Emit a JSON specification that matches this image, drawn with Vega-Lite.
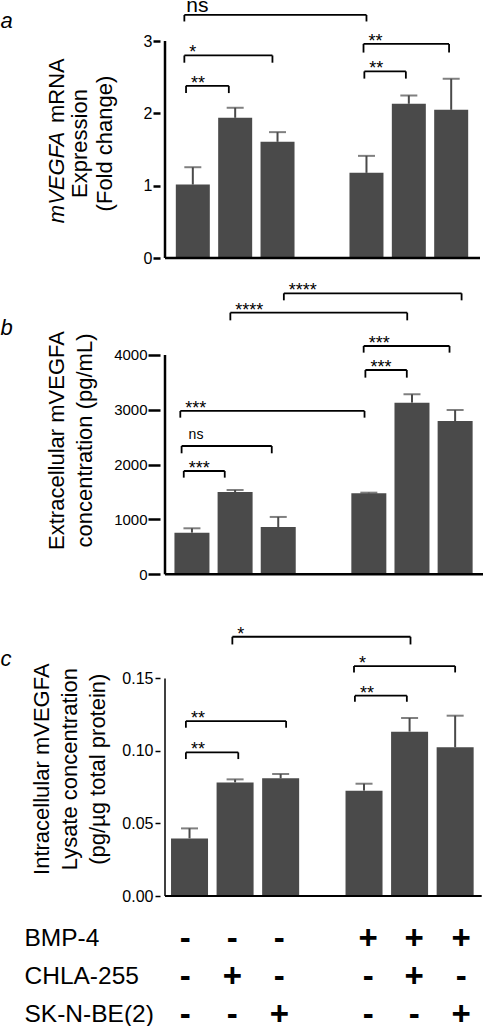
{
  "$schema": "https://vega.github.io/schema/vega-lite/v6.json",
  "background": "white",
  "padding": {"top": -6, "left": 0, "right": 0, "bottom": 0},
  "bounds": "flush",
  "spacing": 30,
  "config": {"view": {"stroke": null}, "font": "Liberation Sans", "axis": {"grid": false}},
  "datasets": {
    "a_bars": [
      {"condition": "Control", "pos": 1, "mean": 1.015, "upper": 1.255},
      {"condition": "CHLA-255", "pos": 2, "mean": 1.938, "upper": 2.077},
      {"condition": "SK-N-BE(2)", "pos": 3, "mean": 1.606, "upper": 1.74},
      {"condition": "BMP-4", "pos": 5.1, "mean": 1.177, "upper": 1.412},
      {"condition": "BMP-4 + CHLA-255", "pos": 6.1, "mean": 2.132, "upper": 2.247},
      {"condition": "BMP-4 + SK-N-BE(2)", "pos": 7.1, "mean": 2.049, "upper": 2.478}
    ],
    "a_br": [
      {"x1": 0.8, "x2": 5.1, "y": 3.36, "yb": 3.27, "label": "ns"},
      {"x1": 0.8, "x2": 2.88, "y": 2.8, "yb": 2.7, "label": "*"},
      {"x1": 0.84, "x2": 1.85, "y": 2.38, "yb": 2.28, "label": "**"},
      {"x1": 5.03, "x2": 7.05, "y": 2.96, "yb": 2.84, "label": "**"},
      {"x1": 5.05, "x2": 6.03, "y": 2.58, "yb": 2.48, "label": "**"}
    ],
    "b_bars": [
      {"condition": "Control", "pos": 1, "mean": 760, "upper": 839},
      {"condition": "CHLA-255", "pos": 2, "mean": 1501, "upper": 1538},
      {"condition": "SK-N-BE(2)", "pos": 3, "mean": 863, "upper": 1046},
      {"condition": "BMP-4", "pos": 5.1, "mean": 1477, "upper": 1489},
      {"condition": "BMP-4 + CHLA-255", "pos": 6.1, "mean": 3131, "upper": 3283},
      {"condition": "BMP-4 + SK-N-BE(2)", "pos": 7.1, "mean": 2796, "upper": 2997}
    ],
    "b_br": [
      {"x1": 3.13, "x2": 7.25, "y": 5125, "yb": 4997, "label": "****"},
      {"x1": 1.89, "x2": 5.99, "y": 4772, "yb": 4632, "label": "****"},
      {"x1": 4.98, "x2": 6.97, "y": 4164, "yb": 4043, "label": "***"},
      {"x1": 5.02, "x2": 5.98, "y": 3726, "yb": 3587, "label": "***"},
      {"x1": 0.73, "x2": 5.0, "y": 2979, "yb": 2857, "label": "***"},
      {"x1": 0.76, "x2": 2.85, "y": 2340, "yb": 2207, "label": "ns"},
      {"x1": 0.81, "x2": 1.76, "y": 1884, "yb": 1763, "label": "***"}
    ],
    "c_bars": [
      {"condition": "Control", "pos": 1, "mean": 0.0397, "upper": 0.0466},
      {"condition": "CHLA-255", "pos": 2, "mean": 0.0783, "upper": 0.0804},
      {"condition": "SK-N-BE(2)", "pos": 3, "mean": 0.0811, "upper": 0.0841},
      {"condition": "BMP-4", "pos": 4.83, "mean": 0.0726, "upper": 0.0774},
      {"condition": "BMP-4 + CHLA-255", "pos": 5.83, "mean": 0.1133, "upper": 0.1227},
      {"condition": "BMP-4 + SK-N-BE(2)", "pos": 6.83, "mean": 0.1025, "upper": 0.1243}
    ],
    "c_br": [
      {"x1": 1.94, "x2": 5.85, "y": 0.1787, "yb": 0.1734, "label": "*"},
      {"x1": 4.61, "x2": 6.83, "y": 0.1585, "yb": 0.1541, "label": "*"},
      {"x1": 4.63, "x2": 5.77, "y": 0.1381, "yb": 0.1339, "label": "**"},
      {"x1": 0.92, "x2": 3.12, "y": 0.1206, "yb": 0.116, "label": "**"},
      {"x1": 0.92, "x2": 2.07, "y": 0.099, "yb": 0.0944, "label": "**"}
    ],
    "table": [
      {"factor": "BMP-4", "pos": 1, "sign": "-"},
      {"factor": "BMP-4", "pos": 2, "sign": "-"},
      {"factor": "BMP-4", "pos": 3, "sign": "-"},
      {"factor": "BMP-4", "pos": 4.89, "sign": "+"},
      {"factor": "BMP-4", "pos": 5.87, "sign": "+"},
      {"factor": "BMP-4", "pos": 6.87, "sign": "+"},
      {"factor": "CHLA-255", "pos": 1, "sign": "-"},
      {"factor": "CHLA-255", "pos": 2, "sign": "+"},
      {"factor": "CHLA-255", "pos": 3, "sign": "-"},
      {"factor": "CHLA-255", "pos": 4.89, "sign": "-"},
      {"factor": "CHLA-255", "pos": 5.87, "sign": "+"},
      {"factor": "CHLA-255", "pos": 6.87, "sign": "-"},
      {"factor": "SK-N-BE(2)", "pos": 1, "sign": "-"},
      {"factor": "SK-N-BE(2)", "pos": 2, "sign": "-"},
      {"factor": "SK-N-BE(2)", "pos": 3, "sign": "+"},
      {"factor": "SK-N-BE(2)", "pos": 4.89, "sign": "-"},
      {"factor": "SK-N-BE(2)", "pos": 5.87, "sign": "-"},
      {"factor": "SK-N-BE(2)", "pos": 6.87, "sign": "+"}
    ]
  },
  "vconcat": [
    {
      "width": 325,
      "height": 257,
      "resolve": {"axis": {"y": "independent"}},
      "layer": [
        {
          "data": {"name": "a_bars"},
          "mark": {"type": "bar", "width": 34, "color": "#4a4a4a"},
          "encoding": {
            "x": {"field": "pos", "type": "quantitative", "scale": {"domain": [0.3432, 7.7803], "nice": false, "zero": false}, "axis": null},
            "y": {"field": "mean", "type": "quantitative", "scale": {"domain": [0, 3.553], "nice": false},
              "axis": {"orient": "left", "values": [0, 1, 2, 3], "domain": false, "ticks": true, "tickSize": 7, "tickWidth": 2.5, "tickColor": "black", "labelFontSize": 16, "labelColor": "black", "labelPadding": 1, "grid": false,
                "title": ["Expression", "(Fold change)"], "titleFontSize": 22, "titleFontWeight": "normal", "titleColor": "black", "titleLineHeight": 25, "titleAngle": -90, "titleAlign": "center", "titleBaseline": "alphabetic", "titleX": -73.3, "titleY": 142}}
          }
        },
        {
          "data": {"name": "a_bars"},
          "mark": {"type": "rule", "color": "#4a4a4a", "strokeWidth": 2},
          "encoding": {
            "x": {"field": "pos", "type": "quantitative", "scale": {"domain": [0.3432, 7.7803], "nice": false, "zero": false}, "axis": null},
            "y": {"field": "mean", "type": "quantitative", "scale": {"domain": [0, 3.553], "nice": false},
              "axis": {"orient": "left", "domain": false, "ticks": false, "labels": false, "grid": false, "title": "mVEGFA", "titleFontStyle": "italic", "titleFontSize": 22, "titleFontWeight": "normal", "titleColor": "black", "titleAngle": -90, "titleAlign": "left", "titleBaseline": "alphabetic", "titleX": -96.7, "titleY": 221.7}},
            "y2": {"field": "upper"}
          }
        },
        {
          "data": {"name": "a_bars"},
          "mark": {"type": "tick", "orient": "horizontal", "color": "#4a4a4a", "thickness": 2, "size": 17},
          "encoding": {
            "x": {"field": "pos", "type": "quantitative", "scale": {"domain": [0.3432, 7.7803], "nice": false, "zero": false}, "axis": null},
            "y": {"field": "upper", "type": "quantitative", "scale": {"domain": [0, 3.553], "nice": false},
              "axis": {"orient": "left", "domain": false, "ticks": false, "labels": false, "grid": false, "title": "mRNA", "titleFontSize": 22, "titleFontWeight": "normal", "titleColor": "black", "titleAngle": -90, "titleAlign": "right", "titleBaseline": "alphabetic", "titleX": -96.7, "titleY": 56.7}}
          }
        },
        {
          "data": {"values": [{}]},
          "mark": {"type": "rule", "color": "black", "strokeWidth": 2.5},
          "encoding": {
            "x": {"datum": 0.3432, "type": "quantitative", "scale": {"domain": [0.3432, 7.7803], "nice": false, "zero": false}, "axis": null},
            "y": {"datum": 0, "type": "quantitative", "scale": {"domain": [0, 3.553], "nice": false}, "axis": null},
            "y2": {"datum": 3}
          }
        },
        {
          "data": {"values": [{}]},
          "mark": {"type": "rule", "color": "black", "strokeWidth": 2.5},
          "encoding": {
            "x": {"datum": 0.3432, "type": "quantitative", "scale": {"domain": [0.3432, 7.7803], "nice": false, "zero": false}, "axis": null},
            "x2": {"datum": 7.7803},
            "y": {"datum": 0, "type": "quantitative", "scale": {"domain": [0, 3.553], "nice": false}, "axis": null}
          }
        },
        {
          "data": {"name": "a_br"},
          "mark": {"type": "rule", "color": "black", "strokeWidth": 1.8},
          "encoding": {
            "x": {"field": "x1", "type": "quantitative", "scale": {"domain": [0.3432, 7.7803], "nice": false, "zero": false}, "axis": null},
            "x2": {"field": "x2"},
            "y": {"field": "y", "type": "quantitative", "scale": {"domain": [0, 3.553], "nice": false},
              "axis": {"orient": "left", "domain": false, "ticks": false, "labels": false, "grid": false, "title": "a", "titleFontStyle": "italic", "titleFontSize": 22, "titleFontWeight": "normal", "titleColor": "black", "titleAngle": 0, "titleAlign": "left", "titleBaseline": "alphabetic", "titleX": -160, "titleY": 26}}
          }
        },
        {
          "data": {"name": "a_br"},
          "mark": {"type": "rule", "color": "black", "strokeWidth": 1.8},
          "encoding": {
            "x": {"field": "x1", "type": "quantitative", "scale": {"domain": [0.3432, 7.7803], "nice": false, "zero": false}, "axis": null},
            "y": {"field": "y", "type": "quantitative", "scale": {"domain": [0, 3.553], "nice": false}, "axis": null},
            "y2": {"field": "yb"}
          }
        },
        {
          "data": {"name": "a_br"},
          "mark": {"type": "rule", "color": "black", "strokeWidth": 1.8},
          "encoding": {
            "x": {"field": "x2", "type": "quantitative", "scale": {"domain": [0.3432, 7.7803], "nice": false, "zero": false}, "axis": null},
            "y": {"field": "y", "type": "quantitative", "scale": {"domain": [0, 3.553], "nice": false}, "axis": null},
            "y2": {"field": "yb"}
          }
        },
        {
          "data": {"name": "a_br"},
          "transform": [{"filter": "datum.label != 'ns'"}],
          "mark": {"type": "text", "align": "left", "baseline": "alphabetic", "fontSize": 18, "dx": 5, "dy": 3, "color": "black"},
          "encoding": {
            "x": {"field": "x1", "type": "quantitative", "scale": {"domain": [0.3432, 7.7803], "nice": false, "zero": false}, "axis": null},
            "y": {"field": "y", "type": "quantitative", "scale": {"domain": [0, 3.553], "nice": false}, "axis": null},
            "text": {"field": "label"}
          }
        },
        {
          "data": {"name": "a_br"},
          "transform": [{"filter": "datum.label == 'ns'"}],
          "mark": {"type": "text", "align": "left", "baseline": "alphabetic", "fontSize": 21, "dx": 2, "dy": -3, "color": "black"},
          "encoding": {
            "x": {"field": "x1", "type": "quantitative", "scale": {"domain": [0.3432, 7.7803], "nice": false, "zero": false}, "axis": null},
            "y": {"field": "y", "type": "quantitative", "scale": {"domain": [0, 3.553], "nice": false}, "axis": null},
            "text": {"field": "label"}
          }
        }
      ]
    },
    {
      "width": 328,
      "height": 286.3,
      "resolve": {"axis": {"y": "independent"}},
      "layer": [
        {
          "data": {"name": "b_bars"},
          "mark": {"type": "bar", "width": 35, "color": "#4a4a4a"},
          "encoding": {
            "x": {"field": "pos", "type": "quantitative", "scale": {"domain": [0.3753, 7.7461], "nice": false, "zero": false}, "axis": null},
            "y": {"field": "mean", "type": "quantitative", "scale": {"domain": [0, 5222], "nice": false},
              "axis": {"orient": "left", "values": [0, 1000, 2000, 3000, 4000], "format": "d", "domain": false, "ticks": true, "tickSize": 12, "tickWidth": 2.5, "tickColor": "black", "labelFontSize": 15, "labelColor": "black", "labelPadding": 1, "grid": false,
                "title": ["Extracellular mVEGFA", "concentration (pg/mL)"], "titleFontSize": 22, "titleFontWeight": "normal", "titleColor": "black", "titleLineHeight": 28, "titleAngle": -90, "titleAlign": "center", "titleBaseline": "alphabetic", "titleX": -96.7, "titleY": 152}}
          }
        },
        {
          "data": {"name": "b_bars"},
          "mark": {"type": "rule", "color": "#4a4a4a", "strokeWidth": 2},
          "encoding": {
            "x": {"field": "pos", "type": "quantitative", "scale": {"domain": [0.3753, 7.7461], "nice": false, "zero": false}, "axis": null},
            "y": {"field": "mean", "type": "quantitative", "scale": {"domain": [0, 5222], "nice": false},
              "axis": {"orient": "left", "domain": false, "ticks": false, "labels": false, "grid": false, "title": "b", "titleFontStyle": "italic", "titleFontSize": 22, "titleFontWeight": "normal", "titleColor": "black", "titleAngle": 0, "titleAlign": "left", "titleBaseline": "alphabetic", "titleX": -160, "titleY": 46.3}},
            "y2": {"field": "upper"}
          }
        },
        {
          "data": {"name": "b_bars"},
          "mark": {"type": "tick", "orient": "horizontal", "color": "#4a4a4a", "thickness": 2, "size": 17},
          "encoding": {
            "x": {"field": "pos", "type": "quantitative", "scale": {"domain": [0.3753, 7.7461], "nice": false, "zero": false}, "axis": null},
            "y": {"field": "upper", "type": "quantitative", "scale": {"domain": [0, 5222], "nice": false}, "axis": null}
          }
        },
        {
          "data": {"values": [{}]},
          "mark": {"type": "rule", "color": "black", "strokeWidth": 2.5},
          "encoding": {
            "x": {"datum": 0.3753, "type": "quantitative", "scale": {"domain": [0.3753, 7.7461], "nice": false, "zero": false}, "axis": null},
            "y": {"datum": 0, "type": "quantitative", "scale": {"domain": [0, 5222], "nice": false}, "axis": null},
            "y2": {"datum": 4000}
          }
        },
        {
          "data": {"values": [{}]},
          "mark": {"type": "rule", "color": "black", "strokeWidth": 2.5},
          "encoding": {
            "x": {"datum": 0.3753, "type": "quantitative", "scale": {"domain": [0.3753, 7.7461], "nice": false, "zero": false}, "axis": null},
            "x2": {"datum": 7.7461},
            "y": {"datum": 0, "type": "quantitative", "scale": {"domain": [0, 5222], "nice": false}, "axis": null}
          }
        },
        {
          "data": {"name": "b_br"},
          "mark": {"type": "rule", "color": "black", "strokeWidth": 1.8},
          "encoding": {
            "x": {"field": "x1", "type": "quantitative", "scale": {"domain": [0.3753, 7.7461], "nice": false, "zero": false}, "axis": null},
            "x2": {"field": "x2"},
            "y": {"field": "y", "type": "quantitative", "scale": {"domain": [0, 5222], "nice": false}, "axis": null}
          }
        },
        {
          "data": {"name": "b_br"},
          "mark": {"type": "rule", "color": "black", "strokeWidth": 1.8},
          "encoding": {
            "x": {"field": "x1", "type": "quantitative", "scale": {"domain": [0.3753, 7.7461], "nice": false, "zero": false}, "axis": null},
            "y": {"field": "y", "type": "quantitative", "scale": {"domain": [0, 5222], "nice": false}, "axis": null},
            "y2": {"field": "yb"}
          }
        },
        {
          "data": {"name": "b_br"},
          "mark": {"type": "rule", "color": "black", "strokeWidth": 1.8},
          "encoding": {
            "x": {"field": "x2", "type": "quantitative", "scale": {"domain": [0.3753, 7.7461], "nice": false, "zero": false}, "axis": null},
            "y": {"field": "y", "type": "quantitative", "scale": {"domain": [0, 5222], "nice": false}, "axis": null},
            "y2": {"field": "yb"}
          }
        },
        {
          "data": {"name": "b_br"},
          "transform": [{"filter": "datum.label != 'ns'"}],
          "mark": {"type": "text", "align": "left", "baseline": "alphabetic", "fontSize": 18, "dx": 5, "dy": 3, "color": "black"},
          "encoding": {
            "x": {"field": "x1", "type": "quantitative", "scale": {"domain": [0.3753, 7.7461], "nice": false, "zero": false}, "axis": null},
            "y": {"field": "y", "type": "quantitative", "scale": {"domain": [0, 5222], "nice": false}, "axis": null},
            "text": {"field": "label"}
          }
        },
        {
          "data": {"name": "b_br"},
          "transform": [{"filter": "datum.label == 'ns'"}],
          "mark": {"type": "text", "align": "left", "baseline": "alphabetic", "fontSize": 14, "dx": 7, "dy": -6.7, "color": "black"},
          "encoding": {
            "x": {"field": "x1", "type": "quantitative", "scale": {"domain": [0.3753, 7.7461], "nice": false, "zero": false}, "axis": null},
            "y": {"field": "y", "type": "quantitative", "scale": {"domain": [0, 5222], "nice": false}, "axis": null},
            "text": {"field": "label"}
          }
        }
      ]
    },
    {
      "width": 326.7,
      "height": 291,
      "resolve": {"axis": {"y": "independent"}},
      "layer": [
        {
          "data": {"name": "c_bars"},
          "mark": {"type": "bar", "width": 37, "color": "#4a4a4a"},
          "encoding": {
            "x": {"field": "pos", "type": "quantitative", "scale": {"domain": [0.4617, 7.4128], "nice": false, "zero": false}, "axis": null},
            "y": {"field": "mean", "type": "quantitative", "scale": {"domain": [0, 0.2006], "nice": false},
              "axis": {"orient": "left", "values": [0, 0.05, 0.1, 0.15], "format": ".2f", "domain": false, "ticks": true, "tickSize": 5, "tickWidth": 1.5, "tickColor": "black", "labelFontSize": 16, "labelColor": "black", "labelPadding": 2, "grid": false,
                "title": ["Intracellular mVEGFA", "Lysate concentration", "(pg/µg total protein)"], "titleFontSize": 22, "titleFontWeight": "normal", "titleColor": "black", "titleLineHeight": 28, "titleAngle": -90, "titleAlign": "center", "titleBaseline": "alphabetic", "titleX": -111.7, "titleY": 163.7}}
          }
        },
        {
          "data": {"name": "c_bars"},
          "mark": {"type": "rule", "color": "#4a4a4a", "strokeWidth": 2},
          "encoding": {
            "x": {"field": "pos", "type": "quantitative", "scale": {"domain": [0.4617, 7.4128], "nice": false, "zero": false}, "axis": null},
            "y": {"field": "mean", "type": "quantitative", "scale": {"domain": [0, 0.2006], "nice": false},
              "axis": {"orient": "left", "domain": false, "ticks": false, "labels": false, "grid": false, "title": "c", "titleFontStyle": "italic", "titleFontSize": 22, "titleFontWeight": "normal", "titleColor": "black", "titleAngle": 0, "titleAlign": "left", "titleBaseline": "alphabetic", "titleX": -160, "titleY": 60}},
            "y2": {"field": "upper"}
          }
        },
        {
          "data": {"name": "c_bars"},
          "mark": {"type": "tick", "orient": "horizontal", "color": "#4a4a4a", "thickness": 2, "size": 17},
          "encoding": {
            "x": {"field": "pos", "type": "quantitative", "scale": {"domain": [0.4617, 7.4128], "nice": false, "zero": false}, "axis": null},
            "y": {"field": "upper", "type": "quantitative", "scale": {"domain": [0, 0.2006], "nice": false}, "axis": null}
          }
        },
        {
          "data": {"values": [{}]},
          "mark": {"type": "rule", "color": "black", "strokeWidth": 1.5},
          "encoding": {
            "x": {"datum": 0.4617, "type": "quantitative", "scale": {"domain": [0.4617, 7.4128], "nice": false, "zero": false}, "axis": null},
            "y": {"datum": 0, "type": "quantitative", "scale": {"domain": [0, 0.2006], "nice": false}, "axis": null},
            "y2": {"datum": 0.15}
          }
        },
        {
          "data": {"values": [{}]},
          "mark": {"type": "rule", "color": "black", "strokeWidth": 2},
          "encoding": {
            "x": {"datum": 0.4617, "type": "quantitative", "scale": {"domain": [0.4617, 7.4128], "nice": false, "zero": false}, "axis": null},
            "x2": {"datum": 7.4128},
            "y": {"datum": 0, "type": "quantitative", "scale": {"domain": [0, 0.2006], "nice": false}, "axis": null}
          }
        },
        {
          "data": {"name": "c_br"},
          "mark": {"type": "rule", "color": "black", "strokeWidth": 1.8},
          "encoding": {
            "x": {"field": "x1", "type": "quantitative", "scale": {"domain": [0.4617, 7.4128], "nice": false, "zero": false}, "axis": null},
            "x2": {"field": "x2"},
            "y": {"field": "y", "type": "quantitative", "scale": {"domain": [0, 0.2006], "nice": false}, "axis": null}
          }
        },
        {
          "data": {"name": "c_br"},
          "mark": {"type": "rule", "color": "black", "strokeWidth": 1.8},
          "encoding": {
            "x": {"field": "x1", "type": "quantitative", "scale": {"domain": [0.4617, 7.4128], "nice": false, "zero": false}, "axis": null},
            "y": {"field": "y", "type": "quantitative", "scale": {"domain": [0, 0.2006], "nice": false}, "axis": null},
            "y2": {"field": "yb"}
          }
        },
        {
          "data": {"name": "c_br"},
          "mark": {"type": "rule", "color": "black", "strokeWidth": 1.8},
          "encoding": {
            "x": {"field": "x2", "type": "quantitative", "scale": {"domain": [0.4617, 7.4128], "nice": false, "zero": false}, "axis": null},
            "y": {"field": "y", "type": "quantitative", "scale": {"domain": [0, 0.2006], "nice": false}, "axis": null},
            "y2": {"field": "yb"}
          }
        },
        {
          "data": {"name": "c_br"},
          "mark": {"type": "text", "align": "left", "baseline": "alphabetic", "fontSize": 18, "dx": 5, "dy": 3, "color": "black"},
          "encoding": {
            "x": {"field": "x1", "type": "quantitative", "scale": {"domain": [0.4617, 7.4128], "nice": false, "zero": false}, "axis": null},
            "y": {"field": "y", "type": "quantitative", "scale": {"domain": [0, 0.2006], "nice": false}, "axis": null},
            "text": {"field": "label"}
          }
        }
      ]
    },
    {
      "width": 326.7,
      "height": 101.8,
      "data": {"name": "table"},
      "mark": {"type": "text", "fontSize": 33, "fontWeight": "bold", "baseline": "middle", "align": "center", "color": "black"},
      "encoding": {
        "x": {"field": "pos", "type": "quantitative", "scale": {"domain": [0.4617, 7.4128], "nice": false, "zero": false}, "axis": null},
        "y": {"field": "factor", "type": "nominal", "sort": ["BMP-4", "CHLA-255", "SK-N-BE(2)"], "scale": {"type": "point", "padding": 0.34},
          "axis": {"orient": "left", "domain": false, "ticks": false, "tickSize": 0, "labelAlign": "left", "labelPadding": 136, "labelFontSize": 24.5, "labelColor": "black", "labelBaseline": "middle", "title": null, "grid": false}},
        "text": {"field": "sign"}
      }
    }
  ]
}
